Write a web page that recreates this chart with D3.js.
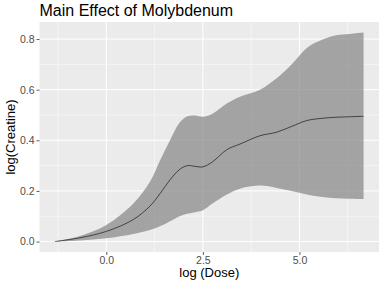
<!DOCTYPE html>
<html>
<head>
<meta charset="utf-8">
<script src="https://cdn.jsdelivr.net/npm/d3@7"></script>
<style>
  body { margin: 0; background: #fff; }
  text { font-family: "Liberation Sans", Arial, sans-serif; }
</style>
</head>
<body>
<svg id="chart" width="383" height="287"></svg>
<script>
// valeurs (log dose, moyenne, bornes du ruban)
const dose  = [-1.33, -0.68, 0.0, 0.70, 1.13, 1.39, 1.65, 1.90, 2.10, 2.30, 2.50, 2.75, 3.12, 3.46, 3.98, 4.41, 4.80, 5.19, 5.60, 5.95, 6.30, 6.66];
const mean  = [0, 0.015, 0.04, 0.087, 0.14, 0.189, 0.244, 0.285, 0.300, 0.297, 0.295, 0.315, 0.363, 0.385, 0.418, 0.432, 0.455, 0.478, 0.487, 0.491, 0.493, 0.495];
const upper = [0, 0.022, 0.065, 0.150, 0.236, 0.320, 0.400, 0.470, 0.495, 0.498, 0.493, 0.505, 0.545, 0.572, 0.600, 0.645, 0.700, 0.765, 0.798, 0.815, 0.820, 0.826];
const lower = [0, 0.004, 0.013, 0.030, 0.046, 0.060, 0.080, 0.100, 0.110, 0.116, 0.124, 0.150, 0.186, 0.209, 0.221, 0.212, 0.200, 0.186, 0.176, 0.171, 0.169, 0.168];

const xTicks = [0, 2.5, 5];
const xMinor = [-1.25, 1.25, 3.75, 6.25];
const yTicks = [0, 0.2, 0.4, 0.6, 0.8];
const yMinor = [0.1, 0.3, 0.5, 0.7];

const title = "Main Effect of Molybdenum",
      xLabel = "log (Dose)",
      yLabel = "log(Creatine)";

const rows = dose.map((d, i) => ({x: d, m: mean[i], hi: upper[i], lo: lower[i]}));

const svg = d3.select("#chart"),
      panel = {left: 39.5, right: 379, top: 22, bottom: 252};

// expansion 5% comme ggplot
function expand(ext){ let p = (ext[1]-ext[0])*0.05; return [ext[0]-p, ext[1]+p]; }

const x = d3.scaleLinear()
    .domain(expand(d3.extent(dose)))
    .range([panel.left, panel.right]);
const y = d3.scaleLinear()
    .domain(expand([d3.min(lower), d3.max(upper)]))
    .range([panel.bottom, panel.top]);

svg.append("rect")
    .attr("x", panel.left).attr("y", panel.top)
    .attr("width", panel.right - panel.left)
    .attr("height", panel.bottom - panel.top)
    .attr("fill", "#ebebeb");

// grille mineure puis majeure
let grid = svg.append("g").attr("stroke", "#fff").attr("fill", "none");
grid.selectAll(".vmin").data(xMinor).enter().append("line")
    .attr("x1", d => x(d)).attr("x2", d => x(d))
    .attr("y1", panel.top).attr("y2", panel.bottom)
    .attr("stroke-width", 0.5);
grid.selectAll(".hmin").data(yMinor).enter().append("line")
    .attr("y1", d => y(d)).attr("y2", d => y(d))
    .attr("x1", panel.left).attr("x2", panel.right)
    .attr("stroke-width", 0.5);
grid.selectAll(".vmaj").data(xTicks).enter().append("line")
    .attr("x1", d => x(d)).attr("x2", d => x(d))
    .attr("y1", panel.top).attr("y2", panel.bottom)
    .attr("stroke-width", 1);
grid.selectAll(".hmaj").data(yTicks).enter().append("line")
    .attr("y1", d => y(d)).attr("y2", d => y(d))
    .attr("x1", panel.left).attr("x2", panel.right)
    .attr("stroke-width", 1);

// ruban
svg.append("path")
    .datum(rows)
    .attr("d", d3.area().curve(d3.curveCatmullRom)
        .x(d => x(d.x)).y0(d => y(d.lo)).y1(d => y(d.hi)))
    .attr("fill", "#7f7f7f")
    .attr("fill-opacity", 0.67);

svg.append("path")
    .datum(rows)
    .attr("d", d3.line().curve(d3.curveCatmullRom).x(d => x(d.x)).y(d => y(d.m)))
    .attr("fill", "none")
    .attr("stroke", "#000")
    .attr("stroke-width", 0.6);

// axes
const xAxis = svg.append("g")
    .attr("transform", `translate(0,${panel.bottom})`)
    .call(d3.axisBottom(x).tickValues(xTicks).tickFormat(d3.format(".1f")).tickSize(3).tickPadding(2));
const yAxis = svg.append("g")
    .attr("transform", `translate(${panel.left},0)`)
    .call(d3.axisLeft(y).tickValues(yTicks).tickFormat(d3.format(".1f")).tickSize(3).tickPadding(2));
[xAxis, yAxis].forEach(a => {
    a.select(".domain").remove();
    a.selectAll(".tick line").attr("stroke", "#333").attr("stroke-width", 0.8);
    a.selectAll(".tick text").attr("fill", "#4d4d4d")
        .style("font-size", "10.5px").style("font-family", "Liberation Sans, Arial, sans-serif");
});

svg.append("text")
    .attr("x", panel.left).attr("y", 16)
    .style("font-size", "16px")
    .text(title);

svg.append("text")
    .attr("x", (panel.left + panel.right) / 2).attr("y", 277)
    .attr("text-anchor", "middle")
    .style("font-size", "13px")
    .text(xLabel);

svg.append("text")
    .attr("transform", `translate(15,${(panel.top + panel.bottom) / 2}) rotate(-90)`)
    .attr("text-anchor", "middle")
    .style("font-size", "13px")
    .text(yLabel);
</script>
</body>
</html>
